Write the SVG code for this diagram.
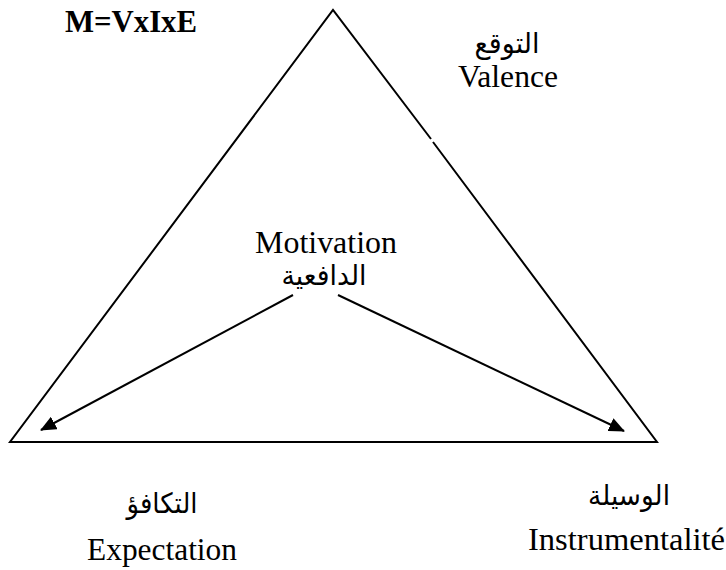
<svg xmlns="http://www.w3.org/2000/svg" width="726" height="570" viewBox="0 0 726 570">
<defs>
<style>
.lat{font-family:"Liberation Serif","Times New Roman",serif;font-size:31px;fill:#000}
.bold{font-weight:bold}
.ar{font-family:"DejaVu Sans","Noto Sans",sans-serif;font-size:28px;fill:#000}
.edge{fill:none;stroke:#000;stroke-width:2}
.conn{fill:none;stroke:#000;stroke-width:2}
</style>
<marker id="arrow" markerUnits="userSpaceOnUse" markerWidth="16" markerHeight="14" refX="15" refY="7" orient="auto">
<path d="M0,0 L16,7 L0,14 Z" fill="#000"/>
</marker>
</defs>
<rect width="726" height="570" fill="#fff"/>
<g id="triangle">
<polyline class="edge" points="431,139 333,10 10,442 657,442 433,142"/>
</g>
<g id="formula">
<text class="lat bold" x="65" y="32" textLength="132" lengthAdjust="spacingAndGlyphs">M=VxIxE</text>
</g>
<g id="valence">
<text class="ar" x="507" y="53" text-anchor="middle" direction="rtl" textLength="65" lengthAdjust="spacingAndGlyphs">التوقع</text>
<text class="lat" x="458" y="87" textLength="100" lengthAdjust="spacingAndGlyphs">Valence</text>
</g>
<g id="motivation">
<text class="lat" x="255" y="253" textLength="142" lengthAdjust="spacingAndGlyphs">Motivation</text>
<text class="ar" x="324" y="285" text-anchor="middle" direction="rtl" textLength="85" lengthAdjust="spacingAndGlyphs">الدافعية</text>
</g>
<g id="expectation">
<text class="ar" x="162" y="513" text-anchor="middle" direction="rtl" textLength="71" lengthAdjust="spacingAndGlyphs">التكافؤ</text>
<text class="lat" x="87" y="560" textLength="150" lengthAdjust="spacingAndGlyphs">Expectation</text>
</g>
<g id="instrumentalite">
<text class="ar" x="629" y="505" text-anchor="middle" direction="rtl" textLength="82" lengthAdjust="spacingAndGlyphs">الوسيلة</text>
<text class="lat" x="528" y="550" textLength="197" lengthAdjust="spacingAndGlyphs">Instrumentalité</text>
</g>
<g id="connectors">
<line class="conn" x1="293" y1="295" x2="41" y2="430" marker-end="url(#arrow)"/>
<line class="conn" x1="338" y1="295" x2="624" y2="431" marker-end="url(#arrow)"/>
</g>
</svg>
